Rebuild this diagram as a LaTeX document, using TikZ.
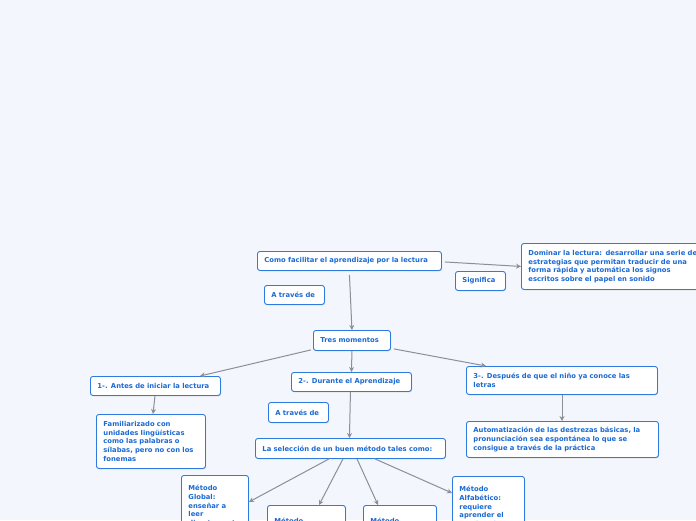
\documentclass[tikz,border=0pt]{standalone}
\usepackage{fontspec}
\setmainfont{DejaVu Sans}
\usetikzlibrary{arrows.meta,shadows}
\definecolor{bg}{HTML}{F3F6FC}
\definecolor{tblue}{HTML}{1B6AD3}
\definecolor{bblue}{HTML}{2E7BE0}
\definecolor{arr}{HTML}{8A8F98}
\tikzset{
 box/.style={draw=bblue, line width=0.9pt, fill=white, rounded corners=2.5pt, anchor=north west,
   font=\fontsize{6.8}{8.6}\selectfont\bfseries, text=tblue, align=left, inner xsep=7pt, inner ysep=0pt,
   drop shadow={shadow xshift=0.6pt, shadow yshift=-0.8pt, opacity=0.25}},
 conn/.style={draw=arr, line width=1pt, -{Stealth[length=5pt,width=5pt]}}
}
\newcommand{\bx}[6]{\node[box, text width=#4-14pt, minimum height=#5] (#1) at (#2pt,-#3pt) {#6};}
\begin{document}
\begin{tikzpicture}[x=1pt,y=1pt]
\useasboundingbox (0,0) rectangle (696,-520);
\clip (0,0) rectangle (696,-520);
\fill[bg] (0,0) rectangle (696,-520);
\bx{como}{257}{251}{184pt}{19pt}{Como facilitar el aprendizaje por la lectura}
\bx{dom}{521}{243}{200pt}{46pt}{Dominar la lectura: desarrollar una serie de\\estrategias que permitan traducir de una\\forma rápida y automática los signos\\escritos sobre el papel en sonido}
\bx{sig}{455}{271}{50pt}{19pt}{Significa}
\bx{at1}{264}{285}{60pt}{19pt}{A través de}
\bx{tres}{313}{330}{77pt}{20pt}{Tres momentos}
\bx{antes}{90}{376}{130pt}{19pt}{1-. Antes de iniciar la lectura}
\bx{dur}{291}{372}{120pt}{19pt}{2-. Durante el Aprendizaje}
\bx{desp}{466}{366}{191pt}{28pt}{3-. Después de que el niño ya conoce las\\letras}
\bx{fam}{96}{414}{109pt}{54pt}{Familiarizado con\\unidades lingüísticas\\como las palabras o\\sílabas, pero no con los\\fonemas}
\bx{at2}{268}{402}{60pt}{20pt}{A través de}
\bx{sel}{255}{438}{190pt}{20pt}{La selección de un buen método tales como:}
\bx{auto}{466}{421}{192pt}{36pt}{Automatización de las destrezas básicas, la\\pronunciación sea espontánea lo que se\\consigue a través de la práctica}
\bx{glob}{181}{475}{67pt}{60pt}{Método\\Global:\\enseñar a\\leer\\directamente}
\bx{m2}{267}{505}{78pt}{40pt}{Método\\Silábico}
\bx{m3}{363}{505}{73pt}{40pt}{Método\\Fonético}
\bx{alf}{452}{476}{72pt}{60pt}{Método\\Alfabético:\\requiere\\aprender el\\nombre de}
\draw[conn] ([yshift=-4pt]como.south) -- (tres.north);
\draw[conn] ([xshift=3pt,yshift=-1pt]como.east) -- (dom.west);
\draw[conn] ([xshift=-2pt,yshift=1pt]tres.south west) -- ([xshift=110pt]antes.north west);
\draw[conn] (tres.south) -- (dur.north);
\draw[conn] ([xshift=3pt,yshift=2pt]tres.south east) -- ([xshift=20pt]desp.north west);
\draw[conn] ([xshift=65pt]antes.south west) -- ([xshift=57pt]fam.north west);
\draw[conn] ([xshift=-1pt]dur.south) -- ([xshift=-1pt]sel.north);
\draw[conn] ([xshift=96pt]desp.south west) -- ([xshift=96pt]auto.north west);
\draw[conn] ([xshift=74pt]sel.south west) -- ([yshift=-27pt]glob.north east);
\draw[conn] ([xshift=88pt]sel.south west) -- ([xshift=52pt]m2.north west);
\draw[conn] ([xshift=102pt]sel.south west) -- ([xshift=15pt]m3.north west);
\draw[conn] ([xshift=120pt]sel.south west) -- ([yshift=-17pt]alf.north west);
\end{tikzpicture}
\end{document}
